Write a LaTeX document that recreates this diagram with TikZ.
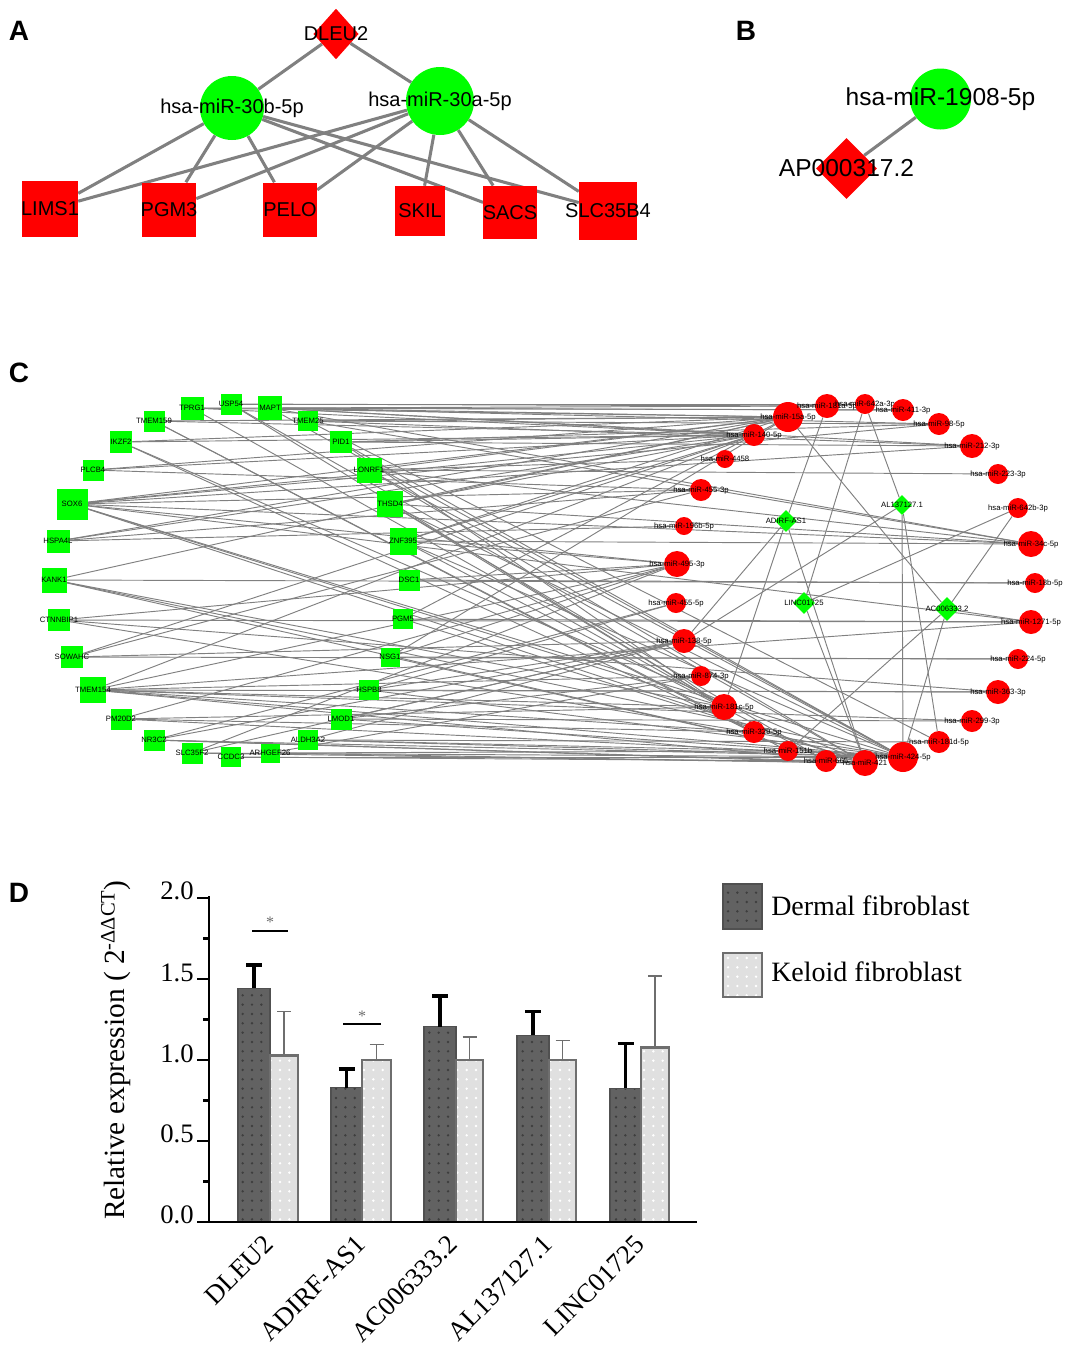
\documentclass[tikz,border=0pt]{standalone}
\usepackage{fontspec}
\setmainfont{Liberation Serif}
\newfontfamily\arial{Liberation Sans}
\usetikzlibrary{shapes.geometric,patterns.meta}
\definecolor{ngreen}{RGB}{0,255,0}
\definecolor{nred}{RGB}{255,0,0}
\definecolor{egray}{RGB}{128,128,128}
\definecolor{dbar}{RGB}{98,98,98}
\definecolor{ddot}{RGB}{62,62,62}
\definecolor{lbar}{RGB}{224,224,224}
\definecolor{lline}{RGB}{110,110,110}
\definecolor{dline}{RGB}{80,80,80}
\pgfdeclarelayer{back}
\pgfdeclarelayer{bg}
\pgfsetlayers{back,bg,main}
\newcommand\genenode[5]{\node[gsq=#4,label={[cl]center:#5}] (#1) at (#2,#3) {};}
\newcommand\mirnode[5]{\node[rcirc=#4,label={[cl]center:#5}] (#1) at (#2,#3) {};}
\newcommand\lncnode[5]{\node[gdia=#4,label={[cl]center:#5}] (#1) at (#2,#3) {};}
\begin{document}
\begin{tikzpicture}[x=0.75pt,y=-0.75pt,
  aedge/.style={draw=egray,line width=2.3pt},
  cedge/.style={draw=egray,line width=0.7pt},
  afont/.style={font=\arial\fontsize{15}{16}\selectfont,inner sep=0pt},
  bfont/.style={font=\arial\fontsize{18.4}{20}\selectfont,inner sep=0pt},
  cl/.style={font=\arial\fontsize{5.8}{6}\selectfont,inner sep=0pt},
  panel/.style={font=\arial\bfseries\fontsize{21}{24}\selectfont,inner sep=0pt},
  redsq/.style={fill=nred,inner sep=0pt,minimum size=#1},
  gsq/.style={fill=ngreen,inner sep=0pt,minimum size=#1},
  rcirc/.style={circle,fill=nred,inner sep=0pt,minimum size=#1},
  gcirc/.style={circle,fill=ngreen,inner sep=0pt,minimum size=#1},
  gdia/.style={diamond,fill=ngreen,inner sep=0pt,minimum width=#1,minimum height=#1},
  dfont/.style={font=\fontsize{20}{22}\selectfont,inner sep=0pt},
  darkbar/.style={fill=dbar},
  darkdots/.style={pattern={Dots[radius=1pt,distance=7pt]},pattern color=ddot},
  lightdots/.style={pattern={Dots[radius=1pt,distance=7pt]},pattern color=white},
]
\useasboundingbox (0,0) rectangle (1073,1350);
\begin{pgfonlayer}{back}
\fill[white] (0,0) rectangle (1073,1350);
\end{pgfonlayer}

% ---------------- panel letters
\node[panel] (lA) at (19,31) {A};
\node[panel] (lB) at (746,31) {B};
\node[panel] (lC) at (19,373) {C};
\node[panel] (lD) at (19,893) {D};

% ---------------- panel A
\node[diamond,fill=nred,inner sep=0pt,minimum width=34pt,minimum height=38pt,label={[afont]center:DLEU2}] (aDLEU2) at (336,34) {};
\node[gcirc=48pt,label={[afont]center:hsa-miR-30b-5p}] (a30b) at (232,108) {};
\node[gcirc=51pt,label={[afont]center:hsa-miR-30a-5p}] (a30a) at (440,101) {};
\node[redsq=42pt,label={[afont]center:LIMS1}] (aLIMS1) at (50,209) {};
\node[redsq=40.5pt,label={[afont]center:PGM3}] (aPGM3) at (169,209.5) {};
\node[redsq=40.5pt,label={[afont]center:PELO}] (aPELO) at (290,209.5) {};
\node[redsq=37.5pt,label={[afont]center:SKIL}] (aSKIL) at (420,211) {};
\node[redsq=40pt,label={[afont]center:SACS}] (aSACS) at (510,212.5) {};
\node[redsq=43.5pt,label={[afont]center:SLC35B4}] (aSLC) at (608,210.5) {};
\begin{pgfonlayer}{bg}
\foreach \a/\b in {aDLEU2/a30b,aDLEU2/a30a,a30b/aLIMS1,a30b/aPGM3,a30b/aPELO,a30b/aSACS,a30b/aSLC,
  a30a/aLIMS1,a30a/aPGM3,a30a/aPELO,a30a/aSKIL,a30a/aSACS,a30a/aSLC}
  {\draw[aedge] (\a) -- (\b);}
\end{pgfonlayer}

% ---------------- panel B
\node[gcirc=45.75pt,label={[bfont]center:hsa-miR-1908-5p}] (b1908) at (940.5,99) {};
\node[diamond,fill=nred,inner sep=0pt,minimum width=45.75pt,minimum height=45.75pt,label={[bfont]center:AP000317.2}] (bAP) at (846.5,168.5) {};
\begin{pgfonlayer}{bg}
\draw[aedge] (bAP) -- (b1908);
\end{pgfonlayer}

% ---------------- panel C: genes
\genenode{gTPRG1}{192}{408}{17.25pt}{TPRG1}
\genenode{gUSP54}{231}{404}{15.75pt}{USP54}
\genenode{gMAPT}{270}{408}{18pt}{MAPT}
\genenode{gTMEM159}{154}{421}{15.75pt}{TMEM159}
\genenode{gTMEM25}{308}{421}{15pt}{TMEM25}
\genenode{gIKZF2}{121}{442}{16.5pt}{IKZF2}
\genenode{gPID1}{341}{442}{16.5pt}{PID1}
\genenode{gPLCB4}{93}{470}{15.75pt}{PLCB4}
\genenode{gLONRF1}{369}{470}{18.75pt}{LONRF1}
\genenode{gSOX6}{72}{504}{23.25pt}{SOX6}
\genenode{gTHSD4}{390}{504}{19.5pt}{THSD4}
\genenode{gHSPA4L}{58}{541}{17.25pt}{HSPA4L}
\genenode{gZNF395}{403}{541}{20.25pt}{ZNF395}
\genenode{gKANK1}{54}{580}{18.75pt}{KANK1}
\genenode{gDSC1}{409}{580}{15.75pt}{DSC1}
\genenode{gCTNNBIP1}{59}{620}{16.5pt}{CTNNBIP1}
\genenode{gPGM5}{403}{619}{15pt}{PGM5}
\genenode{gSOWAHC}{72}{657}{16.5pt}{SOWAHC}
\genenode{gNSG1}{390}{657}{14.25pt}{NSG1}
\genenode{gTMEM154}{93}{690}{19.5pt}{TMEM154}
\genenode{gHSPB8}{369}{690}{15pt}{HSPB8}
\genenode{gPM20D2}{121}{719}{15.75pt}{PM20D2}
\genenode{gLMOD1}{341}{719}{15.75pt}{LMOD1}
\genenode{gNR3C2}{154}{740}{15.75pt}{NR3C2}
\genenode{gALDH3A2}{308}{740}{15pt}{ALDH3A2}
\genenode{gSLC35F2}{192}{753}{15.75pt}{SLC35F2}
\genenode{gCCDC3}{231}{757}{15pt}{CCDC3}
\genenode{gARHGEF26}{270}{753}{14.25pt}{ARHGEF26}

% ---------------- panel C: miRNAs
\mirnode{m15a}{788}{417}{22.5pt}{hsa-miR-15a-5p}
\mirnode{m181a}{827}{406}{18pt}{hsa-miR-181a-5p}
\mirnode{m642a}{865}{404}{15pt}{hsa-miR-642a-3p}
\mirnode{m411}{903}{410}{16.5pt}{hsa-miR-411-3p}
\mirnode{m98}{939}{424}{16.5pt}{hsa-miR-98-5p}
\mirnode{m140}{754}{435}{16.5pt}{hsa-miR-140-5p}
\mirnode{m212}{972}{446}{18pt}{hsa-miR-212-3p}
\mirnode{m4458}{725}{459}{13.5pt}{hsa-miR-4458}
\mirnode{m223}{998}{474}{15pt}{hsa-miR-223-3p}
\mirnode{m4553}{701}{490}{16.5pt}{hsa-miR-455-3p}
\mirnode{m642b}{1018}{508}{15pt}{hsa-miR-642b-3p}
\mirnode{m196b}{684}{526}{13.5pt}{hsa-miR-196b-5p}
\mirnode{m34c}{1031}{544}{19.5pt}{hsa-miR-34c-5p}
\mirnode{m495}{677}{564}{19.5pt}{hsa-miR-495-3p}
\mirnode{m18b}{1035}{583}{15pt}{hsa-miR-18b-5p}
\mirnode{m4555}{676}{603}{15pt}{hsa-miR-455-5p}
\mirnode{m1271}{1031}{622}{18pt}{hsa-miR-1271-5p}
\mirnode{m138}{684}{641}{18pt}{hsa-miR-138-5p}
\mirnode{m224}{1018}{659}{15pt}{hsa-miR-224-5p}
\mirnode{m874}{701}{676}{15pt}{hsa-miR-874-3p}
\mirnode{m363}{998}{692}{18pt}{hsa-miR-363-3p}
\mirnode{m181c}{724}{707}{19.5pt}{hsa-miR-181c-5p}
\mirnode{m299}{972}{721}{16.5pt}{hsa-miR-299-3p}
\mirnode{m329}{754}{732}{16.5pt}{hsa-miR-329-5p}
\mirnode{m181d}{939}{742}{16.5pt}{hsa-miR-181d-5p}
\mirnode{m151b}{788}{751}{15pt}{hsa-miR-151b}
\mirnode{m665}{826}{761}{16.5pt}{hsa-miR-665}
\mirnode{m421}{865}{763}{19.5pt}{hsa-miR-421}
\mirnode{m424}{903}{757}{22.5pt}{hsa-miR-424-5p}

% ---------------- panel C: lncRNAs
\lncnode{dADIRF}{786}{521}{16.5pt}{ADIRF-AS1}
\lncnode{dAL}{902}{505}{15pt}{AL137127.1}
\lncnode{dLINC}{804}{603}{16.5pt}{LINC01725}
\lncnode{dAC}{947}{609}{18pt}{AC006333.2}

\begin{pgfonlayer}{bg}
\foreach \a/\b in {
gTPRG1/m15a, gTPRG1/m411, gTPRG1/m181c, gTPRG1/m140,
gUSP54/m181a, gUSP54/m642a, gUSP54/m181c, gUSP54/m421,
gMAPT/m15a, gMAPT/m181a, gMAPT/m411, gMAPT/m98, gMAPT/m212, gMAPT/m34c, gMAPT/m424, gMAPT/m140,
gTMEM159/m140, gTMEM159/m15a, gTMEM159/m151b, gTMEM159/m329,
gTMEM25/m15a, gTMEM25/m212, gTMEM25/m34c, gTMEM25/m181d, gTMEM25/m98,
gIKZF2/m15a, gIKZF2/m140, gIKZF2/m329, gIKZF2/m421,
gPID1/m140, gPID1/m98, gPID1/m212, gPID1/m424, gPID1/m181c,
gPLCB4/m140, gPLCB4/m15a, gPLCB4/m4553,
gLONRF1/m15a, gLONRF1/m4458, gLONRF1/m421, gLONRF1/m424, gLONRF1/m34c, gLONRF1/m223,
gSOX6/m15a, gSOX6/m140, gSOX6/m212, gSOX6/m98, gSOX6/m34c, gSOX6/m1271, gSOX6/m424, gSOX6/m421, gSOX6/m181c, gSOX6/m4553, gSOX6/m495,
gTHSD4/m15a, gTHSD4/m140, gTHSD4/m424, gTHSD4/m181c, gTHSD4/m665, gTHSD4/m34c,
gHSPA4L/m15a, gHSPA4L/m140, gHSPA4L/m4553, gHSPA4L/m196b,
gZNF395/m15a, gZNF395/m140, gZNF395/m495, gZNF395/m424, gZNF395/m665, gZNF395/m34c,
gKANK1/m15a, gKANK1/m421, gKANK1/m424, gKANK1/m18b, gKANK1/m181c,
gDSC1/m18b, gDSC1/m495,
gCTNNBIP1/m495, gCTNNBIP1/m1271, gCTNNBIP1/m424, gCTNNBIP1/m363,
gPGM5/m1271, gPGM5/m15a, gPGM5/m421,
gSOWAHC/m4553, gSOWAHC/m224, gSOWAHC/m138, gSOWAHC/m140,
gNSG1/m224, gNSG1/m495, gNSG1/m421, gNSG1/m15a,
gTMEM154/m140, gTMEM154/m363, gTMEM154/m181c, gTMEM154/m299, gTMEM154/m424, gTMEM154/m421, gTMEM154/m329, gTMEM154/m495, gTMEM154/m874, gTMEM154/m1271,
gHSPB8/m363, gHSPB8/m4555, gHSPB8/m138, gHSPB8/m424,
gPM20D2/m495, gPM20D2/m181c, gPM20D2/m329, gPM20D2/m424,
gLMOD1/m299, gLMOD1/m874, gLMOD1/m424, gLMOD1/m138,
gNR3C2/m138, gNR3C2/m4555, gNR3C2/m424, gNR3C2/m665, gNR3C2/m421,
gALDH3A2/m181d, gALDH3A2/m138, gALDH3A2/m151b, gALDH3A2/m424,
gSLC35F2/m495, gSLC35F2/m424, gSLC35F2/m421, gSLC35F2/m138,
gCCDC3/m665, gCCDC3/m424,
gARHGEF26/m151b, gARHGEF26/m421, gARHGEF26/m874,
dADIRF/m181a, dADIRF/m138, dADIRF/m181c, dADIRF/m421,
dAL/m642a, dAL/m138, dAL/m424, dAL/m181d,
dLINC/m642a, dLINC/m642b, dLINC/m421,
dAC/m15a, dAC/m642b, dAC/m151b, dAC/m424, dAC/m1271}
  {\draw[cedge] (\a) -- (\b);}
\end{pgfonlayer}

% ---------------- panel D: bars
\foreach \xa/\xb/\xc/\dv/\de/\lv/\le in {
  238/270/298/1.444/1.586/1.027/1.30,
  331/362/391/0.83/0.944/1.0/1.095,
  424/456/483/1.206/1.395/1.0/1.144,
  517/549/576/1.153/1.30/1.0/1.12,
  610/641/669/0.826/1.10/1.076/1.518}{
  \fill[darkbar] (\xa,1222) rectangle (\xb,{1222-162*\dv});
  \fill[darkdots] (\xa,1222) rectangle (\xb,{1222-162*\dv});
  \draw[dline,line width=0.8pt] (\xa,1222) rectangle (\xb,{1222-162*\dv});
  \fill[lbar] (\xb,1222) rectangle (\xc,{1222-162*\lv});
  \fill[lightdots] (\xb,1222) rectangle (\xc,{1222-162*\lv});
  \draw[lline,line width=1.9pt] (\xb,1222) rectangle (\xc,{1222-162*\lv});
  \draw[black,line width=2.5pt] ({(\xa+\xb)/2},{1222-162*\dv}) -- ({(\xa+\xb)/2},{1222-162*\de});
  \draw[black,line width=2.5pt] ({(\xa+\xb)/2-8},{1222-162*\de}) -- ({(\xa+\xb)/2+8},{1222-162*\de});
  \draw[lline,line width=1.3pt] ({(\xb+\xc)/2},{1222-162*\lv}) -- ({(\xb+\xc)/2},{1222-162*\le});
  \draw[lline,line width=1.3pt] ({(\xb+\xc)/2-7},{1222-162*\le}) -- ({(\xb+\xc)/2+7},{1222-162*\le});
}
% axes
\draw[black,line width=2.1pt] (209,896) -- (209,1222);
\draw[black,line width=2.1pt] (197,1222) -- (697,1222);
\foreach \v in {0.5,1,1.5,2} \draw[black,line width=2.1pt] (197,{1222-162*\v}) -- (209,{1222-162*\v});
\foreach \v in {0.25,0.75,1.25,1.75} \draw[black,line width=2.1pt] (203,{1222-162*\v}) -- (209,{1222-162*\v});
\node[dfont,anchor=east] (t00) at (194,1215) {0.0};
\node[dfont,anchor=east] (t05) at (194,1134) {0.5};
\node[dfont,anchor=east] (t10) at (194,1054) {1.0};
\node[dfont,anchor=east] (t15) at (194,973) {1.5};
\node[dfont,anchor=east] (t20) at (194,891) {2.0};
% significance
\draw[black,line width=1.6pt] (252,931) -- (288,931);
\node[font=\fontsize{12}{12}\selectfont,text=lline,inner sep=0pt] (s1) at (270,922) {*};
\draw[black,line width=1.6pt] (343,1024) -- (381,1024);
\node[font=\fontsize{12}{12}\selectfont,text=lline,inner sep=0pt] (s2) at (362,1016) {*};
% axis title
\node[rotate=90,font=\fontsize{22}{24}\selectfont,inner sep=0pt] (ytitle) at (116,1050) {Relative expression ( 2\textsuperscript{-ΔΔCT})};
% category labels
\node[dfont,rotate=45,anchor=east] (c1) at (269,1240) {DLEU2};
\node[dfont,rotate=45,anchor=east] (c2) at (361,1240) {ADIRF-AS1};
\node[dfont,rotate=45,anchor=east] (c3) at (453,1240) {AC006333.2};
\node[dfont,rotate=45,anchor=east] (c4) at (548,1240) {AL137127.1};
\node[dfont,rotate=45,anchor=east] (c5) at (640,1240) {LINC01725};
% legend
\fill[darkbar] (723,884) rectangle (762,929);
\fill[darkdots] (723,884) rectangle (762,929);
\draw[dline,line width=0.8pt] (723,884) rectangle (762,929);
\fill[lbar] (723,953) rectangle (762,997);
\fill[lightdots] (723,953) rectangle (762,997);
\draw[lline,line width=1.9pt] (723,953) rectangle (762,997);
\node[font=\fontsize{21}{24}\selectfont,anchor=west,inner sep=0pt] (leg1) at (771,906) {Dermal fibroblast};
\node[font=\fontsize{21}{24}\selectfont,anchor=west,inner sep=0pt] (leg2) at (771,972) {Keloid fibroblast};
\end{tikzpicture}
\end{document}
